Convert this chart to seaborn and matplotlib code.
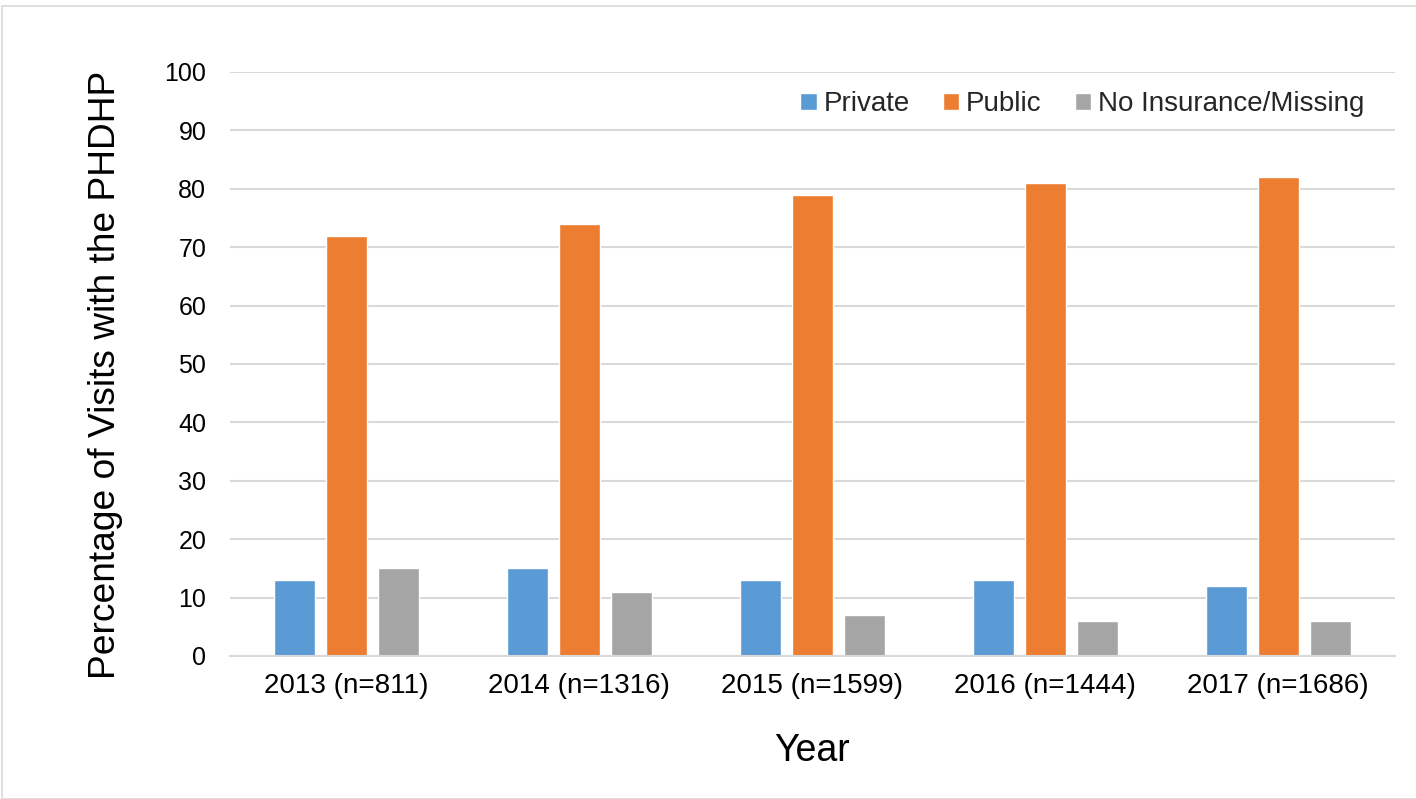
import matplotlib
matplotlib.use("Agg")
import matplotlib.pyplot as plt
import seaborn as sns
import pandas as pd
from matplotlib.patches import Rectangle

years = ["2013 (n=811)", "2014 (n=1316)", "2015 (n=1599)", "2016 (n=1444)", "2017 (n=1686)"]
series = ["Private", "Public", "No Insurance/Missing"]
private = [13, 15, 13, 13, 12]
public = [72, 74, 79, 81, 82]
no_ins = [15, 11, 7, 6, 6]
colors = ["#5B9BD5", "#ED7D31", "#A5A5A5"]

rows = []
for vals, s in zip([private, public, no_ins], series):
    for y, v in zip(years, vals):
        rows.append({"Year": y, "Series": s, "Value": v})
df = pd.DataFrame(rows)

sns.set_theme(style="white")
plt.rcParams["font.family"] = ["Liberation Sans", "DejaVu Sans"]

fig = plt.figure(figsize=(14.16, 7.99), dpi=100)
ax = fig.add_axes([0.1624, 0.179, 0.8226, 0.7309])

sns.barplot(data=df, x="Year", y="Value", hue="Series", palette=colors,
            width=0.67, gap=0.21, ax=ax, saturation=1, legend=True)

ax.set_ylim(0, 100)
ax.set_xlim(-0.5, 4.5)
ax.set_yticks(range(0, 101, 10))
ax.yaxis.grid(True, color="#D9D9D9", linewidth=1.5)
ax.set_axisbelow(True)
for s in ["top", "right", "left"]:
    ax.spines[s].set_visible(False)
ax.spines["bottom"].set_color("#D9D9D9")
ax.spines["bottom"].set_linewidth(1.5)
ax.tick_params(axis="both", length=0, colors="#000000")
ax.tick_params(axis="y", pad=17, labelsize=18)
ax.tick_params(axis="x", pad=12, labelsize=20)
ax.set_xlabel("Year", fontsize=27, labelpad=25, color="#000000")
ax.set_ylabel("Percentage of Visits with the PHDHP", fontsize=26.7, labelpad=30, color="#000000")
ax.yaxis.label.set_y(0.482)

handles, labels = ax.get_legend_handles_labels()
leg = ax.legend(handles, labels, loc="center right", bbox_to_anchor=(0.974, 0.945),
                ncol=3, frameon=False, fontsize=20, handlelength=0.58, handleheight=0.58,
                handletextpad=0.25, columnspacing=1.2, borderpad=0, borderaxespad=0)

fig.patches.append(Rectangle((2 / 1416, 0), 1.2, 1 - 6 / 799, transform=fig.transFigure,
                             fill=False, edgecolor="#D9D9D9", linewidth=1.2))

fig.savefig("out.png", dpi=100)
